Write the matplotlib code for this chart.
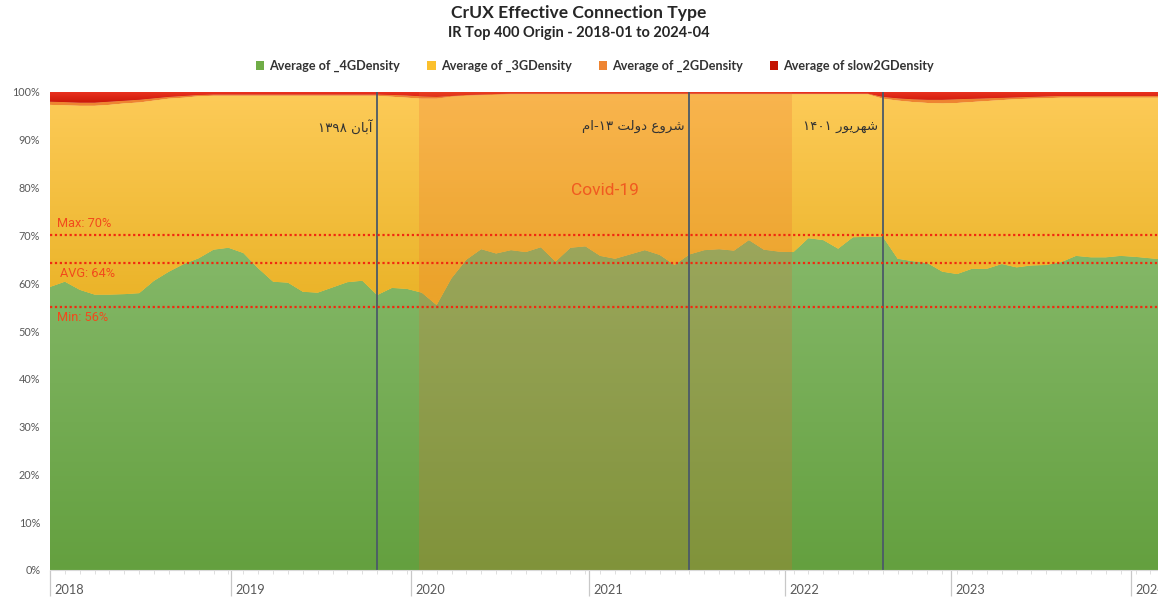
import numpy as np
import matplotlib
matplotlib.use("Agg")
import matplotlib.pyplot as plt
from matplotlib.colors import LinearSegmentedColormap
from matplotlib.patches import Patch

# ---------------- data (monthly, 2018-01 .. 2024-04) ----------------
g4 = [59.2, 60.3, 58.6, 57.6, 57.6, 57.7, 57.9, 60.5, 62.4, 64.0,
      65.2, 67.0, 67.4, 66.3, 63.1, 60.3, 60.1, 58.2, 58.0, 59.1,
      60.2, 60.5, 57.5, 59.0, 58.8, 58.0, 55.4, 61.0, 64.9, 67.1,
      66.2, 66.9, 66.5, 67.5, 64.5, 67.4, 67.7, 65.7, 65.1, 66.0,
      66.9, 65.9, 63.8, 66.0, 66.9, 67.1, 66.8, 69.0, 67.0, 66.6,
      66.5, 69.4, 69.0, 67.2, 69.6, 69.7, 69.7, 65.1, 64.6, 64.2,
      62.4, 61.9, 63.0, 63.0, 64.0, 63.3, 63.7, 63.8, 64.4, 65.7,
      65.4, 65.4, 65.7, 65.5, 65.2, 64.9]
g2 = [0.7, 0.7, 0.7, 0.7, 0.7, 0.6, 0.6, 0.5, 0.4, 0.4,
      0.3, 0.3, 0.3, 0.3, 0.3, 0.3, 0.3, 0.3, 0.3, 0.3,
      0.3, 0.3, 0.3, 0.4, 0.5, 0.5, 0.4, 0.2, 0.2, 0.2,
      0.2, 0.2, 0.2, 0.2, 0.2, 0.2, 0.2, 0.2, 0.2, 0.2,
      0.2, 0.2, 0.2, 0.2, 0.2, 0.2, 0.2, 0.2, 0.2, 0.2,
      0.2, 0.2, 0.2, 0.2, 0.2, 0.2, 0.4, 0.5, 0.6, 0.7,
      0.8, 0.8, 0.7, 0.6, 0.5, 0.4, 0.4, 0.4, 0.4, 0.4,
      0.4, 0.4, 0.4, 0.4, 0.4, 0.4]
slow2g = [2.0, 2.1, 2.2, 2.2, 2.0, 1.8, 1.6, 1.3, 1.0, 0.8,
          0.6, 0.5, 0.5, 0.5, 0.5, 0.5, 0.5, 0.5, 0.5, 0.5,
          0.5, 0.5, 0.5, 0.6, 0.7, 0.9, 1.0, 0.8, 0.6, 0.5,
          0.4, 0.3, 0.3, 0.3, 0.3, 0.3, 0.3, 0.3, 0.3, 0.3,
          0.3, 0.3, 0.3, 0.3, 0.3, 0.3, 0.3, 0.3, 0.3, 0.3,
          0.3, 0.3, 0.3, 0.3, 0.3, 0.3, 1.0, 1.3, 1.5, 1.6,
          1.6, 1.5, 1.4, 1.3, 1.2, 1.1, 1.0, 0.9, 0.8, 0.8,
          0.8, 0.8, 0.8, 0.8, 0.8, 0.8]
g3 = [38.1, 36.9, 38.5, 39.5, 39.7, 39.9, 39.9, 37.7, 36.2, 34.8,
      33.9, 32.2, 31.8, 32.9, 36.1, 38.9, 39.1, 41.0, 41.2, 40.1,
      39.0, 38.7, 41.7, 40.0, 40.0, 40.6, 43.2, 38.0, 34.3, 32.2,
      33.2, 32.6, 33.0, 32.0, 35.0, 32.1, 31.8, 33.8, 34.4, 33.5,
      32.6, 33.6, 35.7, 33.5, 32.6, 32.4, 32.7, 30.5, 32.5, 32.9,
      33.0, 30.1, 30.5, 32.3, 29.9, 29.8, 28.9, 33.1, 33.3, 33.5,
      35.2, 35.8, 34.9, 35.1, 34.3, 35.2, 34.9, 34.9, 34.4, 33.1,
      33.4, 33.4, 33.1, 33.3, 33.6, 33.9]

series_names = ["Average of _4GDensity", "Average of _3GDensity",
                "Average of _2GDensity", "Average of slow2GDensity"]
year_labels = ["2018", "2019", "2020", "2021", "2022", "2023", "2024"]
year_pos = [0, 12.15, 24.3, 36.25, 49.4, 60.6, 72.7]

ref_max, ref_avg, ref_min = 70.0, 64.3, 55.1
covid_span = (24.8, 49.9)
events = [22, 43, 56]
# Persian labels (visual order, presentation forms)
event_labels = [
    "\u06F1\u06F3\u06F9\u06F8 " + "\uFEE5\uFE8E\uFE91\uFE81",
    "\uFEE1\uFE8D-\u06F1\u06F3 " + "\uFE96\uFEDF\uFEED\uFEA9" + " " + "\uFEC9\uFEED\uFEAE\uFEB7",
    "\u06F1\u06F4\u06F0\u06F1 " + "\uFEAD\uFEEE\uFEF3\uFEAE\uFEEC\uFEB7",
]

# ---------------- figure ----------------
W, H = 1158, 599
fig = plt.figure(figsize=(W / 100, H / 100), dpi=100)
ax = fig.add_axes([50 / W, (H - 570) / H, 1115.3 / W, 478 / H])

x = np.arange(len(g4))
tot = np.array(g4) + np.array(g3) + np.array(g2) + np.array(slow2g)
vals = [np.array(v) / tot * 100 for v in (g4, g3, g2, slow2g)]
cols = ["#70ad47", "#fbc440", "#ee8431", "#c41200"]
polys = ax.stackplot(x, *vals, colors=cols, linewidth=0, zorder=1)


def grad_fill(poly, c0, c1, y0, y1):
    cmap = LinearSegmentedColormap.from_list("g", [c0, c1])
    grad = np.linspace(0, 100, 600)[:, None]
    im = ax.imshow(grad, cmap=cmap, vmin=y0, vmax=y1, origin="lower",
                   extent=[0, 75, 0, 100], aspect="auto", zorder=1.5,
                   interpolation="bilinear")
    im.set_clip_path(poly.get_paths()[0], transform=ax.transData)


grad_fill(polys[0], "#64a03f", "#86b96a", 0, 70)
grad_fill(polys[1], "#ebb42a", "#fdcb58", 58, 100)
grad_fill(polys[3], "#c01000", "#e8301e", 97, 100)

# covid shading
ax.axvspan(*covid_span, color="#ec642c", alpha=0.21, lw=0, zorder=3)

# event lines
for ev, lab in zip(events, event_labels):
    ax.axvline(ev, color="#4b5a68", lw=1.3, zorder=4)
    ax.text(ev - 0.3, 92.7, lab, ha="right", va="center", fontsize=9.6,
            color="#333333", family=["DejaVu Sans"], zorder=6)

# reference lines
for yv in (ref_max, ref_avg, ref_min):
    ax.axhline(yv, color="#f02a10", lw=1.6, ls=(0, (1, 1.2)), zorder=5)
lab_col = "#f24a1c"
ax.text(0.5, 72.4, "Max: 70%", color=lab_col, fontsize=9.2, family="Roboto",
        va="center", ha="left", zorder=6)
ax.text(0.65, 62.1, "AVG: 64%", color=lab_col, fontsize=9.2, family="Roboto",
        va="center", ha="left", zorder=6)
ax.text(0.5, 52.9, "Min: 56%", color=lab_col, fontsize=9.2, family="Roboto",
        va="center", ha="left", zorder=6)
ax.text(37.3, 79.3, "Covid-19", color="#f05a20", fontsize=12.5,
        family="Roboto", va="center", ha="center", zorder=6)

# axes styling
ax.set_xlim(0, 75)
ax.set_ylim(0, 100)
for s in ("top", "right", "left"):
    ax.spines[s].set_visible(False)
ax.spines["bottom"].set_color("#d9d9d9")
ax.spines["bottom"].set_zorder(7)
ax.set_yticks(np.arange(0, 101, 10))
ax.set_yticklabels([f"{v}%" for v in range(0, 101, 10)])
ax.tick_params(axis="y", length=0, pad=7, labelsize=7.8, labelcolor="#595959")
for t in ax.get_yticklabels():
    t.set_family("Lato")

ax.set_xticks(year_pos)
ax.set_xticklabels([])
ax.set_xticks(x, minor=True)
ax.tick_params(axis="x", which="major", length=19, width=0.9, color="#c8c8c8")
ax.tick_params(axis="x", which="minor", length=3, width=0.6, color="#d9d9d9")
for p, lab in zip(year_pos, year_labels):
    ax.text(p + 0.3, -0.042, lab, transform=ax.get_xaxis_transform(),
            ha="left", va="center", fontsize=9.2, color="#595959",
            family="Lato", clip_on=False)

# title
fig.text(0.5, 1 - 13 / H, "CrUX Effective Connection Type", ha="center",
         va="center", fontsize=12.6, fontweight="bold", family="Lato",
         color="#262626")
fig.text(0.5, 1 - 33 / H, "IR Top 400 Origin - 2018-01 to 2024-04",
         ha="center", va="center", fontsize=10.5, fontweight="bold",
         family="Lato", color="#262626")

# legend
handles = [Patch(facecolor=c, edgecolor="none") for c in
           ["#70ad47", "#fbc02d", "#ee8431", "#c41200"]]
fig.legend(handles, series_names, loc="center", ncol=4,
           bbox_to_anchor=(595 / W, 1 - 66 / H), frameon=False,
           prop={"family": "Lato", "weight": "bold", "size": 9.1},
           handlelength=0.65, handleheight=0.65, handletextpad=0.4,
           columnspacing=2.15, labelcolor="#333333")

fig.savefig("out.png", dpi=100)
